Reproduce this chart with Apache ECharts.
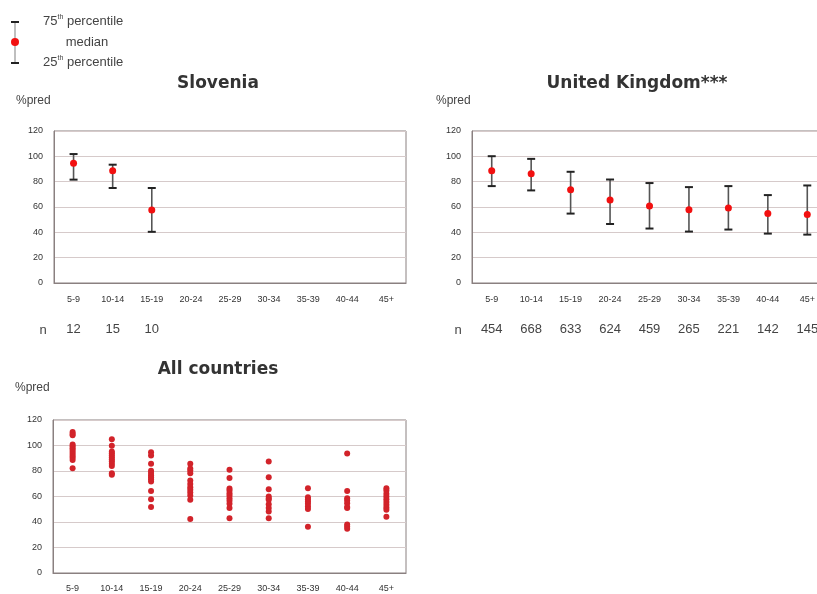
<!DOCTYPE html>
<html><head><meta charset="utf-8">
<script src="https://cdn.jsdelivr.net/npm/echarts@6/dist/echarts.min.js"></script>
<style>html,body{margin:0;padding:0;background:#fff;overflow:hidden;width:817px;height:594px}#c{width:832px;height:594px}</style>
</head><body><div id="c"></div>
<script>
const categories = ['5-9','10-14','15-19','20-24','25-29','30-34','35-39','40-44','45+'];
const yTicks = [0,20,40,60,80,100,120];

// Slovenia
const sloP75 = [101.8, 93.4, 75];
const sloMedian = [94.5, 88.7, 57.7];
const sloP25 = [81.6, 75, 40.4];
const sloN = ['12','15','10','','','','','',''];

// United Kingdom
const ukP75 = [100.1, 98, 87.8, 81.7, 78.9, 75.7, 76.5, 69.4, 77];
const ukMedian = [88.6, 86.2, 73.6, 65.5, 60.8, 57.9, 59.2, 54.8, 54];
const ukP25 = [76.5, 73.1, 54.8, 46.6, 43, 40.6, 42.2, 39, 38.2];
const ukN = ['454','668','633','624','459','265','221','142','145'];

// All countries (medians per country)
const all_5_9 = [110.6, 109.3, 108, 100.7, 99.4, 97.8, 96.5, 95, 93.4, 91.8, 90.3, 88.7, 82.2];
const all_10_14 = [104.9, 99.9, 95.2, 93.9, 92.4, 90.8, 89.2, 87.7, 85.6, 84, 78.3, 77];
const all_15_19 = [94.7, 92.1, 85.6, 80.1, 78.5, 76.7, 75.1, 73.6, 71.7, 64.4, 57.9, 51.7];
const all_20_24 = [85.6, 81.9, 80.4, 78.3, 72.5, 69.9, 67.3, 65.2, 63.1, 60.8, 57.4, 42.3];
const all_25_29 = [80.9, 74.6, 66.3, 64.7, 62.6, 60.8, 58.7, 56.6, 54.3, 50.9, 43];
const all_30_34 = [87.4, 75.1, 65.7, 60, 58.4, 57.4, 54, 50.9, 48.3, 43];
const all_35_39 = [66.5, 59.5, 57.9, 56.1, 54.3, 52.2, 50.1, 36.3];
const all_40_44 = [93.7, 64.4, 58.7, 56.9, 54.8, 51.7, 50.9, 38.1, 36.5, 34.7];
const all_45p = [66.5, 64.7, 62.1, 60, 57.9, 55.6, 53.5, 51.4, 49.6, 44.1];
const allGroups = [all_5_9, all_10_14, all_15_19, all_20_24, all_25_29, all_30_34, all_35_39, all_40_44, all_45p];

const FONT = 'Liberation Sans, Arial, sans-serif';
const TITLE_FONT = 'DejaVu Sans, Verdana, sans-serif';

function yAxis(gi){
  return {type:'value', gridIndex:gi, min:yTicks[0], max:yTicks[yTicks.length-1], interval:20,
    axisLine:{show:true, lineStyle:{color:'#8a8080', width:1}}, axisTick:{show:false},
    axisLabel:{fontSize:9, color:'#333', margin:11, fontFamily:FONT},
    splitLine:{lineStyle:{color:'#d6caca', width:1}}};
}
function xAxis(gi, labelMargin){
  return {type:'category', gridIndex:gi, data:categories, boundaryGap:true,
    axisLine:{show:true, lineStyle:{color:'#8a8080', width:1.2}}, axisTick:{show:false},
    axisLabel:{fontSize:9, color:'#333', margin:labelMargin, fontFamily:FONT, interval:0},
    splitLine:{show:false}};
}
function nAxis(gi, nvals){
  return {type:'category', gridIndex:gi, data:nvals, position:'bottom', offset:40,
    axisLine:{show:false}, axisTick:{show:false},
    axisLabel:{fontSize:13, color:'#444', margin:0, fontFamily:FONT, interval:0}};
}
function errorSeries(xi, yi, p25, p75){
  const data = p25.map((v,i)=>[i, v, p75[i]]);
  return {type:'custom', xAxisIndex:xi, yAxisIndex:yi, data:data, z:2,
    renderItem:function(params, api){
      const lo = api.coord([api.value(0), api.value(1)]);
      const hi = api.coord([api.value(0), api.value(2)]);
      const hw = 4;
      return {type:'group', children:[
        {type:'line', shape:{x1:lo[0], y1:lo[1], x2:hi[0], y2:hi[1]}, style:{stroke:'#555', lineWidth:1.6}},
        {type:'line', shape:{x1:lo[0]-hw, y1:lo[1], x2:lo[0]+hw, y2:lo[1]}, style:{stroke:'#222', lineWidth:2}},
        {type:'line', shape:{x1:hi[0]-hw, y1:hi[1], x2:hi[0]+hw, y2:hi[1]}, style:{stroke:'#222', lineWidth:2}}
      ]};
    }};
}
function medianSeries(xi, yi, med){
  return {type:'scatter', xAxisIndex:xi, yAxisIndex:yi, data:med.map((v,i)=>[i,v]),
    symbolSize:7, itemStyle:{color:'#f21010', opacity:1}, z:3};
}

const allData = [];
allGroups.forEach((g,i)=>g.forEach(v=>allData.push([i,v])));

const chart = echarts.init(document.getElementById('c'), null, {renderer:'canvas'});
chart.setOption({
  animation:false,
  backgroundColor:'#fff',
  grid:[
    {left:54, top:131, width:352, height:152, show:true, borderColor:'#8a8080', borderWidth:1},
    {left:472, top:131, width:355, height:152, show:true, borderColor:'#8a8080', borderWidth:1},
    {left:53, top:420, width:353, height:153, show:true, borderColor:'#8a8080', borderWidth:1}
  ],
  xAxis:[xAxis(0,12), xAxis(1,12), xAxis(2,11), nAxis(0, sloN), nAxis(1, ukN)],
  yAxis:[yAxis(0), yAxis(1), yAxis(2)],
  series:[
    errorSeries(0,0,sloP25,sloP75),
    medianSeries(0,0,sloMedian),
    errorSeries(1,1,ukP25,ukP75),
    medianSeries(1,1,ukMedian),
    {type:'scatter', xAxisIndex:2, yAxisIndex:2, data:allData, symbolSize:6, itemStyle:{color:'#d2232a', opacity:1}}
  ],
  graphic:[
    {type:'text', x:218, y:84, style:{text:'Slovenia', font:'bold 17px '+TITLE_FONT, fill:'#333', textAlign:'center', textVerticalAlign:'middle'}},
    {type:'text', x:637, y:84, style:{text:'United Kingdom***', font:'bold 17px '+TITLE_FONT, fill:'#333', textAlign:'center', textVerticalAlign:'middle'}},
    {type:'text', x:218, y:370, style:{text:'All countries', font:'bold 17px '+TITLE_FONT, fill:'#333', textAlign:'center', textVerticalAlign:'middle'}},
    {type:'text', x:16, y:101, style:{text:'%pred', font:'12px '+FONT, fill:'#444', textVerticalAlign:'middle'}},
    {type:'text', x:436, y:101, style:{text:'%pred', font:'12px '+FONT, fill:'#444', textVerticalAlign:'middle'}},
    {type:'text', x:15, y:388, style:{text:'%pred', font:'12px '+FONT, fill:'#444', textVerticalAlign:'middle'}},
    {type:'text', x:43, y:330, style:{text:'n', font:'13px '+FONT, fill:'#444', textAlign:'center', textVerticalAlign:'middle'}},
    {type:'text', x:458, y:330, style:{text:'n', font:'13px '+FONT, fill:'#444', textAlign:'center', textVerticalAlign:'middle'}},
    // legend
    {type:'line', shape:{x1:15, y1:22, x2:15, y2:63}, style:{stroke:'#aaa', lineWidth:1.5}},
    {type:'line', shape:{x1:11, y1:22, x2:19, y2:22}, style:{stroke:'#222', lineWidth:2}},
    {type:'line', shape:{x1:11, y1:63, x2:19, y2:63}, style:{stroke:'#222', lineWidth:2}},
    {type:'circle', shape:{cx:15, cy:42, r:4}, style:{fill:'#f21010'}},
    {type:'text', x:43, y:21, style:{text:'{a|75}{s|th}{a| percentile}', rich:{a:{font:'13px '+FONT, fill:'#444'}, s:{font:'7px '+FONT, fill:'#444', verticalAlign:'top', padding:[0,0,8,0]}}, textVerticalAlign:'middle'}},
    {type:'text', x:87, y:42, style:{text:'median', font:'13px '+FONT, fill:'#444', textAlign:'center', textVerticalAlign:'middle'}},
    {type:'text', x:43, y:62, style:{text:'{a|25}{s|th}{a| percentile}', rich:{a:{font:'13px '+FONT, fill:'#444'}, s:{font:'7px '+FONT, fill:'#444', verticalAlign:'top', padding:[0,0,8,0]}}, textVerticalAlign:'middle'}}
  ]
});
</script>
</body></html>
